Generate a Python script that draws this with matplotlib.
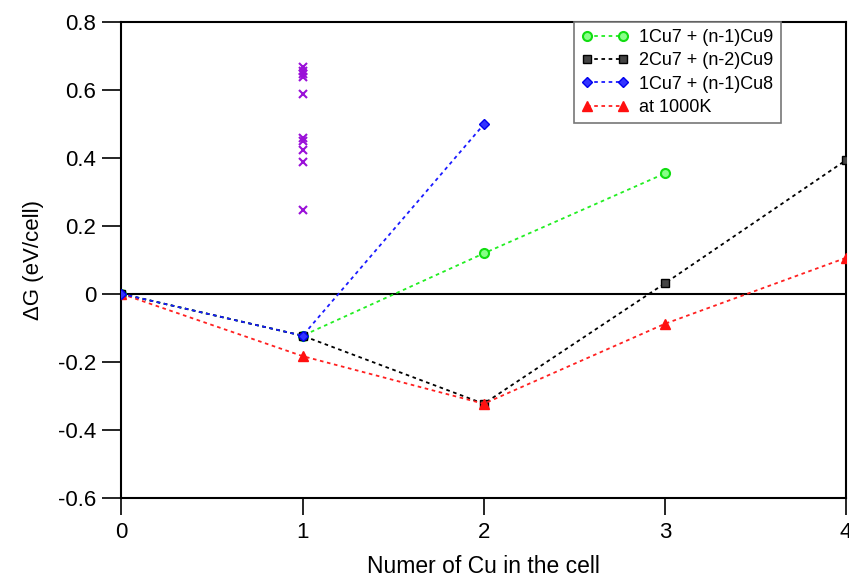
import numpy as np
import matplotlib
matplotlib.use('Agg')
import matplotlib.pyplot as plt

plt.rcParams['font.family'] = ['Liberation Sans', 'DejaVu Sans']

# series data
n_green = [0, 1, 2, 3]
g_green = [0.0, -0.123, 0.119, 0.354]

n_black = [0, 1, 2, 3, 4]
g_black = [0.0, -0.123, -0.323, 0.031, 0.393]

n_blue = [0, 1, 2]
g_blue = [0.0, -0.123, 0.498]

n_red = [0, 1, 2, 3, 4]
g_red = [0.0, -0.183, -0.323, -0.088, 0.106]

# scattered configurations at n = 1
n_cross = [1, 1, 1, 1, 1, 1, 1, 1, 1, 1]
g_cross = [0.666, 0.656, 0.646, 0.637, 0.588, 0.457, 0.450, 0.423, 0.388, 0.246]

labels = ['1Cu7 + (n-1)Cu9', '2Cu7 + (n-2)Cu9', '1Cu7 + (n-1)Cu8', 'at 1000K']

fig = plt.figure(figsize=(8.49, 5.79), dpi=100)
ax = fig.add_axes([0.1431, 0.1399, 0.8534, 0.8226])

dots = (0, (2, 2))
ax.axhline(0, color='black', linewidth=1.5, zorder=1)

ax.plot(n_green, g_green, linestyle=dots, color='#22ee22', linewidth=1.3, marker='o',
        markersize=6.5, markerfacecolor='#88ff88', markeredgecolor='#11dd11', markeredgewidth=1.5,
        label=labels[0], zorder=3)
ax.plot(n_black, g_black, linestyle=dots, color='black', linewidth=1.3, marker='s',
        markersize=5.5, markerfacecolor='#444444', markeredgecolor='black',
        label=labels[1], zorder=3)
ax.plot(n_blue, g_blue, linestyle=dots, color='#1a1aff', linewidth=1.3, marker='D',
        markersize=5.5, markerfacecolor='#3333ff', markeredgecolor='#0000ee',
        label=labels[2], zorder=4)
ax.plot(n_red, g_red, linestyle=dots, color='#ff2020', linewidth=1.3, marker='^',
        markersize=6.5, markerfacecolor='#ff1010', markeredgecolor='#ff1010',
        label=labels[3], zorder=3)
ax.plot(n_cross, g_cross, linestyle='none', marker='x', markersize=6,
        color='#9a10d8', markeredgewidth=1.5, zorder=3)

ax.set_xlim(0, 4)
ax.set_ylim(-0.6, 0.8)
ax.set_xticks([0, 1, 2, 3, 4])
ax.set_xticklabels(['0', '1', '2', '3', '4'])
ax.set_yticks([-0.6, -0.4, -0.2, 0, 0.2, 0.4, 0.6, 0.8])
ax.set_yticklabels(['-0.6', '-0.4', '-0.2', '0', '0.2', '0.4', '0.6', '0.8'])
ax.tick_params(axis='y', direction='out', length=14, width=1.2, labelsize=16, pad=4)
ax.tick_params(axis='x', direction='out', length=12, width=1.2, labelsize=16, pad=5)
for s in ax.spines.values():
    s.set_linewidth(1.5)

ax.set_xlabel('Numer of Cu in the cell', fontsize=16.5, labelpad=9)
ax.set_ylabel('\u0394G (eV/cell)', fontsize=16, labelpad=10)

leg = ax.legend(loc='upper left', bbox_to_anchor=(0.6246, 1.0), borderaxespad=0,
                fontsize=13, numpoints=2, handlelength=2.6, fancybox=False,
                framealpha=1, edgecolor='#777777', borderpad=0.4, labelspacing=0.35,
                handletextpad=0.6)
leg.get_frame().set_linewidth(1.2)

fig.savefig('out.png', dpi=100)
